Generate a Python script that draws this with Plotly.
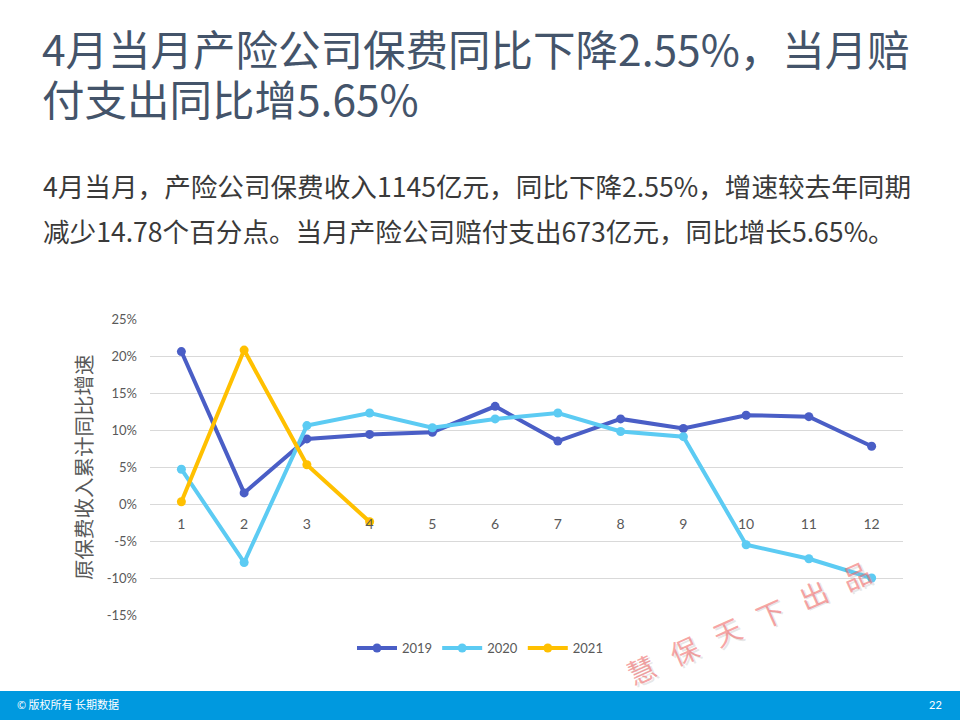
import plotly.graph_objects as go

months = [1, 2, 3, 4, 5, 6, 7, 8, 9, 10, 11, 12]
growth_2019 = [20.6, 1.5, 8.8, 9.4, 9.7, 13.2, 8.5, 11.5, 10.2, 12.0, 11.8, 7.8]
growth_2020 = [4.7, -7.9, 10.6, 12.3, 10.3, 11.5, 12.3, 9.8, 9.1, -5.5, -7.4, -10.0]
growth_2021 = [0.3, 20.8, 5.3, -2.4]
y_ticks = [-15, -10, -5, 0, 5, 10, 15, 20, 25]
y_tick_labels = [f"{v}%" for v in y_ticks]

title_lines = ["4月当月产险公司保费同比下降2.55%，当月赔", "付支出同比增5.65%"]
body_lines = ["4月当月，产险公司保费收入1145亿元，同比下降2.55%，增速较去年同期",
              "减少14.78个百分点。当月产险公司赔付支出673亿元，同比增长5.65%。"]
watermark_chars = ["慧", "保", "天", "下", "出", "品"]

series = [("2019", growth_2019, "#4a5ec6"),
          ("2020", growth_2020, "#5ccbf3"),
          ("2021", growth_2021, "#ffc000")]

W, H = 960, 720
L, R, T, B = 150, 57, 319, 105
PW, PH = W - L - R, H - T - B


def px(x):
    return (x - L) / PW


def py(y):
    return (H - B - y) / PH


fig = go.Figure()
for name, vals, color in series:
    fig.add_trace(go.Scatter(
        x=months[:len(vals)], y=vals, name=name, mode="lines+markers",
        line=dict(color=color, width=4),
        marker=dict(color=color, size=9),
    ))

fig.update_layout(
    width=W, height=H,
    margin=dict(l=L, r=R, t=T, b=B),
    paper_bgcolor="white", plot_bgcolor="white",
    showlegend=True,
    legend=dict(orientation="h", x=px(480), xanchor="center", y=py(648), yanchor="middle",
                font=dict(family="Lato, Noto Sans", size=13, color="#595959"),
                itemwidth=40, tracegroupgap=0),
    xaxis=dict(range=[0.5, 12.5], tickmode="array", tickvals=months,
               ticktext=[str(m) for m in months], showgrid=False, zeroline=False,
               showline=False, anchor="free", position=15 / 40,
               ticks="outside", ticklen=7, tickcolor="rgba(0,0,0,0)",
               tickfont=dict(family="Lato, Noto Sans", size=14, color="#595959")),
    yaxis=dict(range=[-15, 25], tickmode="array", tickvals=y_ticks, ticktext=y_tick_labels,
               showgrid=True, gridcolor="#d9d9d9", gridwidth=1,
               zeroline=True, zerolinecolor="#d9d9d9", zerolinewidth=1,
               showline=False, ticks="", ticklabelstandoff=12,
               tickfont=dict(family="Lato, Noto Sans", size=13, color="#595959")),
)

cjk = "Noto Sans CJK SC"
ann = []
# Title (one annotation per line)
for i, line in enumerate(title_lines):
    ann.append(dict(text=line, x=px(40), y=py(47 + 50 * i), xanchor="left", yanchor="middle",
                    height=48, valign="middle",
                    font=dict(family=cjk, size=42.5, color="#44546a")))
# Body
for i, line in enumerate(body_lines):
    ann.append(dict(text=line, x=px(41), y=py(185 + 46 * i), xanchor="left", yanchor="middle",
                    font=dict(family=cjk, size=26.6, color="#3a3a3a")))
# Y axis title
ann.append(dict(text="原保费收入累计同比增速", x=px(83), y=py(467), textangle=-90,
                xanchor="center", yanchor="middle",
                font=dict(family=cjk, size=20.5, color="#595959")))
# Watermark, characters spread along a slanted line
x0, y0, x1, y1 = 641, 669, 856, 575
n = len(watermark_chars)
for i, ch in enumerate(watermark_chars):
    cx = x0 + (x1 - x0) * i / (n - 1)
    cy = y0 + (y1 - y0) * i / (n - 1)
    ann.append(dict(text=ch, x=px(cx + 1.5), y=py(cy + 1.5), textangle=-24,
                    xanchor="center", yanchor="middle",
                    font=dict(family=cjk, size=28, color="rgba(160,160,160,0.25)")))
    ann.append(dict(text=ch, x=px(cx), y=py(cy), textangle=-24,
                    xanchor="center", yanchor="middle",
                    font=dict(family=cjk, size=28, color="rgba(240,105,105,0.6)")))
# Footer
ann.append(dict(text="© 版权所有 长期数据", x=px(15), y=py(704), xanchor="left", yanchor="middle",
                font=dict(family=cjk, size=11, color="white")))
ann.append(dict(text="22", x=px(944), y=py(704), xanchor="right", yanchor="middle",
                font=dict(family="Lato, Noto Sans", size=11, color="white")))
for a in ann:
    a.update(xref="paper", yref="paper", showarrow=False)
fig.update_layout(annotations=ann)

fig.add_shape(type="rect", xref="paper", yref="paper", x0=px(0), x1=px(W), y0=py(691), y1=py(H),
              fillcolor="#0099df", line=dict(width=0), layer="below")

fig.write_html("out.html", config={"displayModeBar": False},
               post_script="document.body.style.margin='0px';")
